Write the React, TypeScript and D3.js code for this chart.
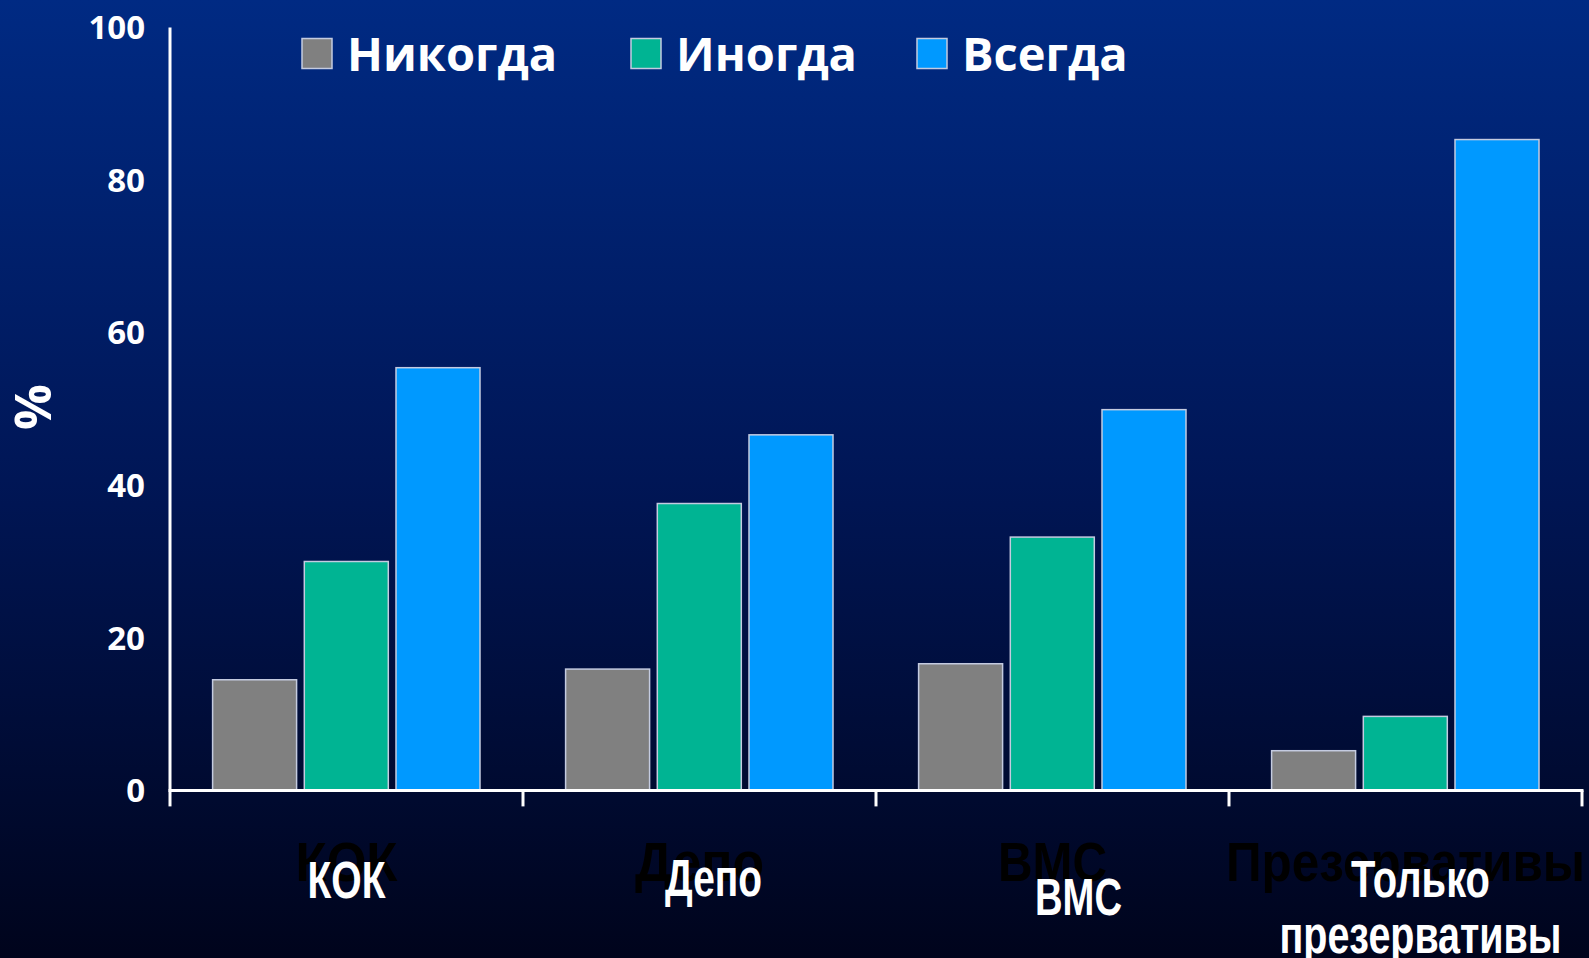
import React from "react";
import * as d3 from "d3";

const categories = ["КОК", "Депо", "ВМС", "Презервативы"];
const whiteLabels = [["КОК"], ["Депо"], ["ВМС"], ["Только", "презервативы"]];
const series = ["Никогда", "Иногда", "Всегда"];
const neverValues = [14.5, 15.9, 16.6, 5.2];
const sometimesValues = [30.0, 37.6, 33.2, 9.7];
const alwaysValues = [55.4, 46.6, 49.9, 85.3];
const yTicks = [0, 20, 40, 60, 80, 100];

const colors = ["#808080", "#00b493", "#0099ff"];
const W = 1589;
const H = 958;

export default function App() {
  const values = [neverValues, sometimesValues, alwaysValues];
  const x = d3.scaleBand<string>().domain(categories).range([170, 1582]).paddingInner(0).paddingOuter(0);
  const inner = d3.scaleBand<string>().domain(series).range([42.6, 310]).paddingInner(0.084).paddingOuter(0);
  const y = d3.scaleLinear().domain([0, 100]).range([790.4, 27.4]);
  const tickXs = [...categories.map((c) => x(c)!), 1582];
  const whiteOffsets = [
    { dx: 0, y: 898, w: [78] },
    { dx: 14, y: 896, w: [97] },
    { dx: 26, y: 915, w: [87] },
    { dx: 15, y: 897, w: [139, 282] },
  ];
  const shadowW = [102, 129, 109, 359];
  const legendX = [302, 631, 917];
  const axisFont = "'Open Sans', 'DejaVu Sans', sans-serif";
  return (
    <svg width={W} height={H} style={{ position: "absolute", left: 0, top: 0, display: "block" }}>
      <defs>
        <linearGradient id="bg" x1="0" y1="0" x2="0" y2="1">
          <stop offset="0" stopColor="#002a83" />
          <stop offset="0.5" stopColor="#001656" />
          <stop offset="1" stopColor="#00041c" />
        </linearGradient>
      </defs>
      <rect x={0} y={0} width={W} height={H} fill="url(#bg)" />

      {/* shadow category labels */}
      {categories.map((c, ci) => (
        <text
          key={"s" + c}
          x={x(c)! + x.bandwidth() / 2}
          y={881}
          textAnchor="middle"
          fontFamily="'Liberation Sans', Arial, sans-serif"
          fontWeight="bold"
          fontSize={55}
          textLength={shadowW[ci]}
          lengthAdjust="spacingAndGlyphs"
          fill="#000000"
        >
          {c}
        </text>
      ))}

      {/* bars */}
      {categories.map((c, ci) =>
        series.map((s, si) => {
          const v = values[si][ci];
          return (
            <rect
              key={c + s}
              x={x(c)! + inner(s)!}
              y={y(v)}
              width={inner.bandwidth()}
              height={y(0) - y(v)}
              fill={colors[si]}
              stroke="#c4cbe0"
              strokeWidth={1.5}
            />
          );
        })
      )}

      {/* axes */}
      <line x1={170} x2={170} y1={y(100)} y2={y(0)} stroke="#ffffff" strokeWidth={3} />
      <line x1={168.5} x2={1583.5} y1={y(0)} y2={y(0)} stroke="#ffffff" strokeWidth={3} />
      {tickXs.map((tx, i) => (
        <line key={"t" + i} x1={tx} x2={tx} y1={y(0)} y2={y(0) + 16} stroke="#ffffff" strokeWidth={3} />
      ))}
      {yTicks.map((t) => (
        <text
          key={"y" + t}
          x={145}
          y={y(t)}
          dy="0.36em"
          textAnchor="end"
          fontFamily={axisFont}
          fontWeight="bold"
          fontSize={33}
          fill="#ffffff"
        >
          {t}
        </text>
      ))}
      <text
        transform="translate(51,407) rotate(-90)"
        textAnchor="middle"
        fontFamily={axisFont}
        fontWeight="bold"
        fontSize={51}
        fill="#ffffff"
      >
        %
      </text>

      {/* white category labels */}
      {whiteLabels.map((lines, ci) =>
        lines.map((ln, li) => (
          <text
            key={"w" + ci + li}
            x={x(categories[ci])! + x.bandwidth() / 2 + whiteOffsets[ci].dx}
            y={whiteOffsets[ci].y + li * 56}
            textAnchor="middle"
            fontFamily="'Liberation Sans', Arial, sans-serif"
            fontWeight="bold"
            fontSize={51}
            textLength={whiteOffsets[ci].w[li]}
            lengthAdjust="spacingAndGlyphs"
            fill="#ffffff"
          >
            {ln}
          </text>
        ))
      )}

      {/* legend */}
      {series.map((s, si) => (
        <g key={"l" + s}>
          <rect x={legendX[si]} y={38.5} width={30} height={30} fill={colors[si]} stroke="#c4cbe0" strokeWidth={1.5} />
          <text
            x={legendX[si] + 45}
            y={71}
            fontFamily={axisFont}
            fontWeight="bold"
            fontSize={47}
            fill="#ffffff"
          >
            {s}
          </text>
        </g>
      ))}
    </svg>
  );
}
